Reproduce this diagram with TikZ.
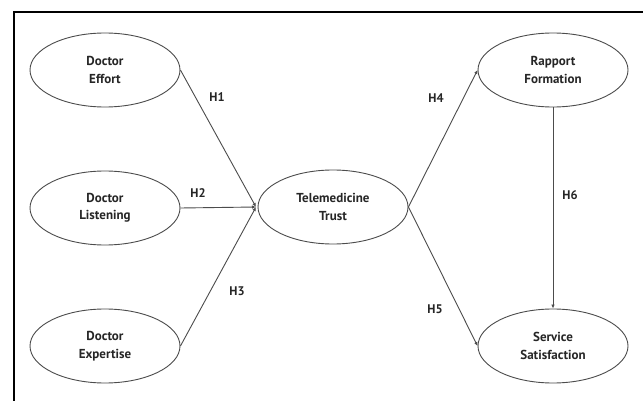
\documentclass[tikz,border=0pt]{standalone}
\usepackage{fontspec}
\setmainfont{PT Sans}
\usetikzlibrary{arrows.meta,shapes.geometric}
\begin{document}
\begin{tikzpicture}[x=1pt,y=-1pt,
  construct/.style={draw=black!70,line width=0.9pt,ellipse,minimum width=150pt,minimum height=74pt,inner sep=0pt,align=center,font=\fontsize{13}{17.5}\selectfont\bfseries,text=black!85},
  path/.style={draw=black!70,line width=0.9pt,-{Latex[length=4pt,width=3.5pt]}},
  hlab/.style={font=\fontsize{12.5}{14}\selectfont\bfseries,text=black!85}]
\useasboundingbox (0,0) rectangle (643,401);
\fill[white] (0,0) rectangle (643,401);
\draw[line width=1.5pt,black] (14,401) -- (14,12) -- (643,12);
\node[construct] (de) at (105,70) {Doctor\\Effort};
\node[construct] (dl) at (105,208) {Doctor\\Listening};
\node[construct] (dx) at (105,346) {Doctor\\Expertise};
\node[construct] (tt) at (333,207) {Telemedicine\\Trust};
\node[construct] (rf) at (553,70) {Rapport\\Formation};
\node[construct] (ss) at (553,346) {Service\\Satisfaction};
\coordinate (in) at (256,207);
\draw[path] (de.east) -- (in);
\draw[path] (dl.east) -- (in);
\draw[path] (dx.east) -- (in);
\draw[path] (tt.east) -- (rf.west);
\draw[path] (tt.east) -- (ss.west);
\draw[path] (rf.south) -- (ss.north);
\node[hlab] (h1) at (217,97) {H1};
\node[hlab] (h2) at (198,193) {H2};
\node[hlab] (h3) at (237,291) {H3};
\node[hlab] (h4) at (436,98) {H4};
\node[hlab] (h5) at (435,309) {H5};
\node[hlab] (h6) at (570,195) {H6};
\end{tikzpicture}
\end{document}
